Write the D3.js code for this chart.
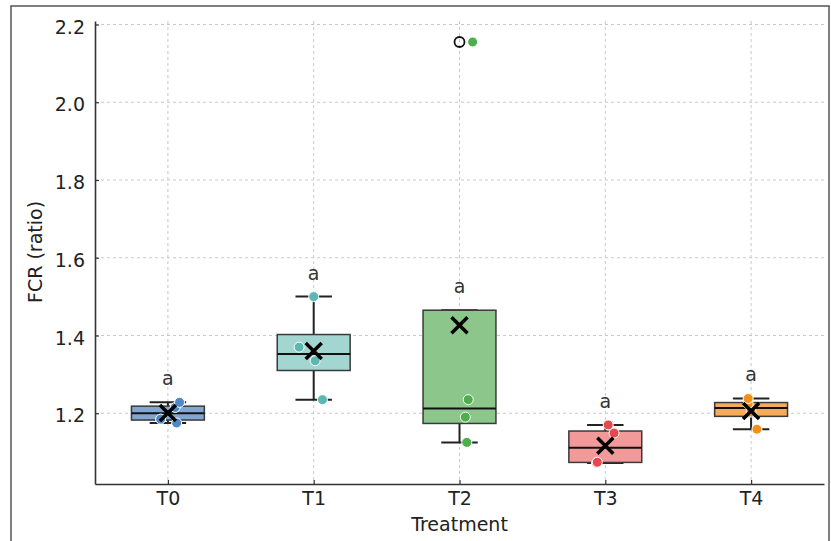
<!DOCTYPE html>
<html><head><meta charset="utf-8">
<script src="https://cdn.jsdelivr.net/npm/d3@7"></script>
<style>body{margin:0;background:#fff;} svg{display:block;font-family:"DejaVu Sans",sans-serif;}</style>
</head><body>
<svg id="c" width="831" height="541"></svg>
<script>
const categories = ["T0","T1","T2","T3","T4"];
const values = [
  [1.175, 1.185, 1.215, 1.228],
  [1.235, 1.335, 1.370, 1.500],
  [1.125, 1.190, 1.235, 2.155],
  [1.072, 1.074, 1.149, 1.170],
  [1.159, 1.203, 1.224, 1.238]
];
// horizontal jitter of each point, in category units
const jitter = [
  [0.06, -0.05, 0.05, 0.08],
  [0.06, 0.01, -0.10, 0.00],
  [0.05, 0.04, 0.06, 0.09],
  [-0.06, -0.055, 0.06, 0.02],
  [0.04, 0.00, -0.02, -0.02]
];
const letters = ["a","a","a","a","a"];
const yTicks = [1.2, 1.4, 1.6, 1.8, 2.0, 2.2];
const pointColors = ["#4f88c6","#5cb8b2","#4cae4c","#e5484d","#f29018"];
const fillColors  = ["#82a6d2","#a3d6d0","#8cc68a","#f29a9a","#f5ab5b"];

const svg = d3.select("#c");
const L = 95, R = 824, T = 21, B = 484;
const FS = 19;
const x = d3.scaleLinear().domain([-0.5, 4.5]).range([L, R]);
const y = d3.scaleLinear().domain([1.018, 2.209]).range([B, T]);

// outer frame
svg.append("path").attr("d", `M11,545 L11,6 L829,6 L829,545`).attr("fill","none").attr("stroke","#555").attr("stroke-width",1.5);

// grid
const g = svg.append("g");
g.selectAll(".gy").data(yTicks).join("line")
  .attr("x1", L).attr("x2", R).attr("y1", d=>y(d)).attr("y2", d=>y(d))
  .attr("stroke","#c8c8c8").attr("stroke-width",1).attr("stroke-dasharray","3,3");
g.selectAll(".gx").data(categories).join("line")
  .attr("x1", (d,i)=>x(i)).attr("x2", (d,i)=>x(i)).attr("y1", T).attr("y2", B)
  .attr("stroke","#c8c8c8").attr("stroke-width",1).attr("stroke-dasharray","3,3");

function stats(arr){
  const s = arr.slice().sort(d3.ascending);
  const q1 = d3.quantile(s,0.25), med = d3.quantile(s,0.5), q3 = d3.quantile(s,0.75);
  const iqr = q3-q1, lo = q1-1.5*iqr, hi = q3+1.5*iqr;
  let wlo = d3.min(s.filter(v=>v>=lo)), whi = d3.max(s.filter(v=>v<=hi));
  if (whi < q3) whi = q3; if (wlo > q1) wlo = q1;
  const fliers = s.filter(v=>v<lo||v>hi);
  return {q1, med, q3, wlo, whi, fliers, mean: d3.mean(s)};
}

const bw = 0.5, cw = 0.25;
const boxes = svg.append("g");
values.forEach((vals,i)=>{
  const st = stats(vals);
  const gg = boxes.append("g");
  gg.append("line").attr("x1",x(i)).attr("x2",x(i)).attr("y1",y(st.q1)).attr("y2",y(st.wlo)).attr("stroke","#222").attr("stroke-width",2);
  gg.append("line").attr("x1",x(i)).attr("x2",x(i)).attr("y1",y(st.q3)).attr("y2",y(st.whi)).attr("stroke","#222").attr("stroke-width",2);
  [st.wlo, st.whi].forEach(v=>{
    gg.append("line").attr("x1",x(i-cw/2)).attr("x2",x(i+cw/2)).attr("y1",y(v)).attr("y2",y(v)).attr("stroke","#222").attr("stroke-width",2);
  });
  gg.append("rect").attr("x",x(i-bw/2)).attr("width",x(i+bw/2)-x(i-bw/2))
    .attr("y",y(st.q3)).attr("height",y(st.q1)-y(st.q3))
    .attr("fill",fillColors[i]).attr("stroke","#3a3a3a").attr("stroke-width",1.5);
  gg.append("line").attr("x1",x(i-bw/2)).attr("x2",x(i+bw/2)).attr("y1",y(st.med)).attr("y2",y(st.med)).attr("stroke","#111").attr("stroke-width",2);
  st.fliers.forEach(v=>{
    gg.append("circle").attr("cx",x(i)).attr("cy",y(v)).attr("r",5).attr("fill","none").attr("stroke","#111").attr("stroke-width",1.8);
  });
  vals.forEach((v,j)=>{
    gg.append("circle").attr("cx",x(i+jitter[i][j])).attr("cy",y(v)).attr("r",5)
      .attr("fill",pointColors[i]).attr("stroke","#fff").attr("stroke-width",1);
  });
  const mx = x(i), my = y(st.mean), s = 8;
  gg.append("path").attr("d",`M${mx-s},${my-s}L${mx+s},${my+s}M${mx-s},${my+s}L${mx+s},${my-s}`)
    .attr("stroke","#000").attr("stroke-width",3.5).attr("fill","none");
  gg.append("text").attr("x",x(i)).attr("y",y(st.whi)-17).attr("text-anchor","middle")
    .attr("font-size",FS).attr("fill","#333").text(letters[i]);
});

const yAxis = d3.axisLeft(y).tickValues(yTicks).tickFormat(d3.format(".1f")).tickSizeInner(-4).tickSizeOuter(0).tickPadding(10);
const ya = svg.append("g").attr("transform",`translate(${L},0)`).call(yAxis);
const xAxis = d3.axisBottom(x).tickValues([0,1,2,3,4]).tickFormat(i=>categories[i]).tickSizeInner(-4).tickSizeOuter(0).tickPadding(8);
const xa = svg.append("g").attr("transform",`translate(0,${B})`).call(xAxis);
[ya,xa].forEach(a=>{
  a.select(".domain").attr("stroke","#333").attr("stroke-width",1.6);
  a.selectAll(".tick line").attr("stroke","#333").attr("stroke-width",1.2);
  a.selectAll("text").attr("font-size",FS).attr("fill","#222").attr("font-family","DejaVu Sans");
});
ya.selectAll(".tick text").attr("dy","0.45em");

svg.append("text").attr("x",459.5).attr("y",531).attr("text-anchor","middle").attr("font-size",FS).attr("fill","#222").text("Treatment");
svg.append("text").attr("transform",`translate(42,252) rotate(-90)`).attr("text-anchor","middle").attr("font-size",FS).attr("fill","#222").text("FCR (ratio)");
</script>
</body></html>
